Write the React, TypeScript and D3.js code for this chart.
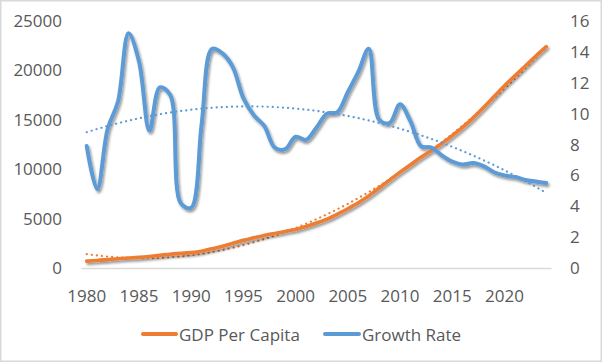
import React from "react";
import * as d3 from "d3";

const years: number[] = d3.range(1980, 2025);
const gdpPerCapita: number[] = [
  700, 760, 850, 940, 1010, 1080, 1170, 1280, 1400, 1480,
  1560, 1700, 1950, 2200, 2500, 2800, 3050, 3300, 3500, 3700,
  3900, 4200, 4550, 4950, 5450, 6000, 6600, 7300, 8100, 8900,
  9700, 10450, 11200, 11900, 12600, 13400, 14250, 15200, 16250, 17350,
  18450, 19450, 20450, 21450, 22400,
];
const growthRate: number[] = [
  7.9, 5.1, 9.0, 10.8, 15.2, 13.4, 8.9, 11.7, 11.2, 4.2,
  3.9, 9.3, 14.2, 13.9, 13.0, 11.0, 9.9, 9.2, 7.8, 7.7,
  8.5, 8.3, 9.1, 10.0, 10.1, 11.4, 12.7, 14.2, 9.6, 9.4,
  10.6, 9.5, 7.9, 7.8, 7.3, 6.9, 6.7, 6.8, 6.6, 6.2,
  6.0, 5.9, 5.7, 5.6, 5.5,
];
const leftTicks: number[] = [0, 5000, 10000, 15000, 20000, 25000];
const rightTicks: number[] = [0, 2, 4, 6, 8, 10, 12, 14, 16];
const xTickYears: number[] = [1980, 1985, 1990, 1995, 2000, 2005, 2010, 2015, 2020];
const seriesNames = ["GDP Per Capita", "Growth Rate"];

// least-squares polynomial fit (Excel polynomial trendline)
function polyFit(xs: number[], ys: number[], order: number): (x: number) => number {
  const n = order + 1;
  const A: number[][] = Array.from({ length: n }, () => new Array(n + 1).fill(0));
  for (let k = 0; k < xs.length; k++) {
    for (let i = 0; i < n; i++) {
      for (let j = 0; j < n; j++) A[i][j] += Math.pow(xs[k], i + j);
      A[i][n] += ys[k] * Math.pow(xs[k], i);
    }
  }
  for (let i = 0; i < n; i++) {
    let p = i;
    for (let r = i + 1; r < n; r++) if (Math.abs(A[r][i]) > Math.abs(A[p][i])) p = r;
    [A[i], A[p]] = [A[p], A[i]];
    for (let r = 0; r < n; r++) {
      if (r === i) continue;
      const f = A[r][i] / A[i][i];
      for (let c = i; c <= n; c++) A[r][c] -= f * A[i][c];
    }
  }
  const coef = A.map((row, i) => row[n] / row[i]);
  return (x: number) => coef.reduce((s, c, i) => s + c * Math.pow(x, i), 0);
}

const ORANGE = "#ED7D31";
const BLUE = "#5B9BD5";
const TEXT = "#595959";
const FONT = "'Open Sans', sans-serif";

export default function App() {
  const W = 602, H = 362;
  const plotL = 81.5, plotR = 551.5, plotT = 21, plotB = 268;
  const x = d3.scaleBand<number>().domain(years).range([plotL, plotR]);
  const xc = (yr: number) => (x(yr) as number) + x.bandwidth() / 2;
  const yL = d3.scaleLinear().domain([0, 25000]).range([plotB, plotT]);
  const yR = d3.scaleLinear().domain([0, 16]).range([plotB, plotT]);

  const idx = years.map((_, i) => i + 1);
  const gdpTrend = polyFit(idx, gdpPerCapita, 2);
  const grTrend = polyFit(idx, growthRate, 2);

  const curve = d3.curveCatmullRom.alpha(0.5);
  const lineL = d3.line<number>().x((_, i) => xc(years[i])).y((d) => yL(d)).curve(curve);
  const lineR = d3.line<number>().x((_, i) => xc(years[i])).y((d) => yR(d)).curve(curve);
  const trendLineL = d3.line<number>().x((_, i) => xc(years[i])).y((d) => yL(d));
  const trendLineR = d3.line<number>().x((_, i) => xc(years[i])).y((d) => yR(d));

  const gdpTrendVals = idx.map((t) => gdpTrend(t));
  const grTrendVals = idx.map((t) => grTrend(t));

  return (
    <svg width={W} height={H} style={{ position: "fixed", left: 0, top: 0, background: "#fff" }} fontFamily={FONT}>
      <defs>
        <filter id="shadow" x="-10%" y="-10%" width="120%" height="130%">
          <feDropShadow dx="1.5" dy="2.2" stdDeviation="1.3" floodColor="#000" floodOpacity="0.4" />
        </filter>
      </defs>
      <rect x={0.75} y={0.75} width={W - 1.5} height={H - 1.5} fill="#fff" stroke="#D9D9D9" strokeWidth={1.5} />
      <line x1={plotL} x2={plotR} y1={plotB + 0.5} y2={plotB + 0.5} stroke="#D9D9D9" strokeWidth={1.5} />

      {leftTicks.map((t) => (
        <text key={"l" + t} x={62} y={yL(t) + 6} textAnchor="end" fontSize={17} fill={TEXT}>{t}</text>
      ))}
      {rightTicks.map((t) => (
        <text key={"r" + t} x={570} y={yR(t) + 6} textAnchor="start" fontSize={17} fill={TEXT}>{t}</text>
      ))}
      {xTickYears.map((yr) => (
        <text key={"x" + yr} x={xc(yr)} y={302} textAnchor="middle" fontSize={17} fill={TEXT}>{yr}</text>
      ))}

      <path d={trendLineL(gdpTrendVals) || ""} fill="none" stroke={ORANGE} strokeWidth={2.2} strokeDasharray="0.1 5" strokeLinecap="round" />
      <g filter="url(#shadow)">
        <path d={lineL(gdpPerCapita) || ""} fill="none" stroke={ORANGE} strokeWidth={3.6} strokeLinejoin="round" strokeLinecap="round" />
        <path d={lineR(growthRate) || ""} fill="none" stroke={BLUE} strokeWidth={4} strokeLinejoin="round" strokeLinecap="round" />
      </g>
      <path d={trendLineR(grTrendVals) || ""} fill="none" stroke={BLUE} strokeWidth={2.2} strokeDasharray="0.1 5" strokeLinecap="round" />

      <g>
        <line x1={143} x2={176} y1={334} y2={334} stroke={ORANGE} strokeWidth={4} strokeLinecap="round" />
        <text x={179} y={340.5} fontSize={17} fill={TEXT}>{seriesNames[0]}</text>
        <line x1={325} x2={359} y1={334} y2={334} stroke={BLUE} strokeWidth={4} strokeLinecap="round" />
        <text x={362} y={340.5} fontSize={17} fill={TEXT}>{seriesNames[1]}</text>
      </g>
    </svg>
  );
}
